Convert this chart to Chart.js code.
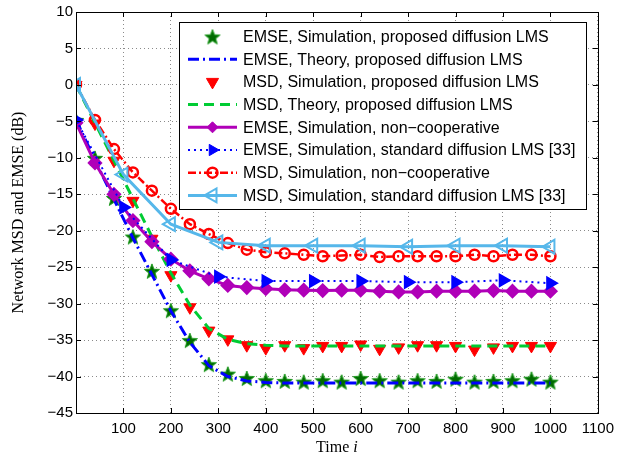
<!DOCTYPE html>
<html>
<head>
<meta charset="utf-8">
<script src="https://cdn.jsdelivr.net/npm/chart.js@4.4.1/dist/chart.umd.min.js"></script>
<style>
  body { margin: 0; background: #fff; }
  #wrap { width: 621px; height: 459px; }
</style>
</head>
<body>
<div id="wrap"><canvas id="mseChart" width="621" height="459"></canvas></div>
<script>
// time instants where the markers sit
const iters40 = [0, 40, 80, 120, 160, 200, 240, 280, 320, 360, 400, 440, 480, 520, 560, 600, 640, 680, 720, 760, 800, 840, 880, 920, 960, 1000];
const iters100 = [0, 100, 200, 300, 400, 500, 600, 700, 800, 900, 1000];

// series values (dB)
const emseSimProposed = [-4.8, -10.0, -15.5, -20.8, -25.5, -30.9, -35.0, -38.3, -39.6, -40.2, -40.5, -40.6, -40.7, -40.5, -40.7, -40.2, -40.5, -40.7, -40.5, -40.6, -40.3, -40.7, -40.6, -40.5, -40.3, -40.7];
const emseTheoryProposed = [-4.8, -10.3, -15.7, -21.0, -26.0, -31.0, -35.3, -38.5, -40.0, -40.6, -40.8, -40.9, -40.9, -40.9, -40.9, -40.9, -40.9, -40.9, -40.9, -40.9, -40.9, -40.9, -40.9, -40.9, -40.9, -40.9];
const msdSimProposed = [0, -5.3, -10.4, -15.9, -21.1, -26.1, -30.5, -33.7, -34.9, -35.7, -36.1, -35.7, -36.1, -35.8, -35.8, -35.6, -36.2, -36.0, -35.7, -35.7, -35.8, -36.3, -36.0, -35.8, -35.8, -35.8];
const msdTheoryProposed = [0, -5.2, -10.4, -15.6, -20.8, -25.8, -30.2, -33.4, -34.9, -35.5, -35.7, -35.8, -35.8, -35.8, -35.8, -35.8, -35.8, -35.8, -35.8, -35.8, -35.8, -35.8, -35.8, -35.8, -35.8, -35.8];
const emseNonCoop = [-5.2, -10.7, -15.0, -18.6, -21.5, -23.9, -25.5, -26.6, -27.5, -27.8, -27.95, -28.1, -28.15, -28.2, -28.15, -28.15, -28.3, -28.4, -28.4, -28.3, -28.3, -28.3, -28.2, -28.3, -28.3, -28.3];
const emseStandard = [-4.8, -16.8, -24.0, -26.3, -26.9, -26.9, -26.9, -27.05, -27.05, -26.8, -27.2];
const msdNonCoop = [0, -4.8, -8.8, -12.0, -14.5, -17.0, -19.1, -20.45, -21.7, -22.6, -22.95, -23.1, -23.3, -23.5, -23.4, -23.3, -23.6, -23.5, -23.5, -23.5, -23.5, -23.3, -23.5, -23.3, -23.3, -23.5];
const msdStandard = [0, -12.3, -19.1, -21.6, -22.05, -22.05, -22.05, -22.2, -22.05, -22.05, -22.2];

const seriesLabels = [
  "EMSE, Simulation, proposed diffusion LMS",
  "EMSE, Theory, proposed diffusion LMS",
  "MSD, Simulation, proposed diffusion LMS",
  "MSD, Theory, proposed diffusion LMS",
  "EMSE, Simulation, non\u2212cooperative",
  "EMSE, Simulation, standard diffusion LMS [33]",
  "MSD, Simulation, non\u2212cooperative",
  "MSD, Simulation, standard diffusion LMS [33]"
];

// tick settings
const xTicks = { min: 0, max: 1100, step: 100 };
const yTicks = { min: -45, max: 10, step: 5 };

function toPoints(xs, ys) {
  return ys.map((y, i) => ({ x: xs[i], y: y }));
}

// filled green star marker (Chart.js "star" is an asterisk)
function makeStar(r) {
  const c = document.createElement("canvas");
  const s = Math.ceil(r * 2 + 4);
  c.width = s;
  c.height = s;
  const g = c.getContext("2d");
  g.translate(s / 2, s / 2 + 1);
  g.beginPath();
  for (let i = 0; i < 10; i++) {
    const rad = i % 2 ? r * 0.42 : r;
    const a = -Math.PI / 2 + (i * Math.PI) / 5;
    g.lineTo(rad * Math.cos(a), rad * Math.sin(a));
  }
  g.closePath();
  g.fillStyle = "#006b00";
  g.fill();
  g.lineWidth = 1;
  g.strokeStyle = "#1d9a1d";
  g.stroke();
  return c;
}
const starImg = makeStar(8);

const RED = "#ff0000";
const BLUE = "#0000ff";
const GREEN = "#00cc33";
const PURPLE = "#b000b8";
const SKY = "#56b7ea";

// marker description for the hand-drawn legend
const markers = [
  { type: "star" },
  null,
  { type: "tri", rot: 180, r: 7, fill: RED, stroke: RED, w: 1 },
  null,
  { type: "diamond", r: 5.5, fill: PURPLE, stroke: PURPLE, w: 1 },
  { type: "tri", rot: 90, r: 6.5, fill: BLUE, stroke: BLUE, w: 1 },
  { type: "circle", r: 5, fill: null, stroke: RED, w: 2.5 },
  { type: "tri", rot: -90, r: 8, fill: null, stroke: SKY, w: 2 }
];

const datasets = [
  {
    data: toPoints(iters40, emseSimProposed),
    showLine: false,
    pointStyle: starImg,
    order: 8
  },
  {
    data: toPoints(iters40, emseTheoryProposed),
    borderColor: BLUE,
    borderWidth: 3,
    borderDash: [11, 4, 2, 4],
    pointRadius: 0,
    order: 7
  },
  {
    data: toPoints(iters40, msdSimProposed),
    showLine: false,
    pointStyle: "triangle",
    pointRotation: 180,
    pointRadius: 7,
    pointBackgroundColor: RED,
    pointBorderColor: RED,
    order: 6
  },
  {
    data: toPoints(iters40, msdTheoryProposed),
    borderColor: GREEN,
    borderWidth: 3,
    borderDash: [10, 6],
    pointRadius: 0,
    order: 5
  },
  {
    data: toPoints(iters40, emseNonCoop),
    borderColor: PURPLE,
    borderWidth: 3,
    pointStyle: "rectRot",
    pointRadius: 5.5,
    pointBackgroundColor: PURPLE,
    pointBorderColor: PURPLE,
    order: 4
  },
  {
    data: toPoints(iters100, emseStandard),
    borderColor: BLUE,
    borderWidth: 2,
    borderDash: [2, 4],
    pointStyle: "triangle",
    pointRotation: 90,
    pointRadius: 6.5,
    pointBackgroundColor: BLUE,
    pointBorderColor: BLUE,
    order: 3
  },
  {
    data: toPoints(iters40, msdNonCoop),
    borderColor: RED,
    borderWidth: 2.5,
    borderDash: [8, 3, 2, 3],
    pointStyle: "circle",
    pointRadius: 5,
    pointBorderWidth: 2.5,
    pointBackgroundColor: "rgba(0,0,0,0)",
    pointBorderColor: RED,
    order: 2
  },
  {
    data: toPoints(iters100, msdStandard),
    borderColor: SKY,
    borderWidth: 3,
    pointStyle: "triangle",
    pointRotation: -90,
    pointRadius: 8,
    pointBorderWidth: 2,
    pointBackgroundColor: "rgba(0,0,0,0)",
    pointBorderColor: SKY,
    order: 1
  }
];
datasets.forEach((d, i) => {
  d.label = seriesLabels[i];
  d.fill = false;
  d.tension = 0;
  if (!d.borderColor) d.borderColor = "rgba(0,0,0,0)";
});

function drawMarker(ctx, m, x, y) {
  if (!m) return;
  ctx.save();
  if (m.type === "star") {
    ctx.drawImage(starImg, x - starImg.width / 2, y - starImg.height / 2);
    ctx.restore();
    return;
  }
  ctx.setLineDash([]);
  ctx.beginPath();
  if (m.type === "tri") {
    let rad = (m.rot * Math.PI) / 180;
    for (let k = 0; k < 3; k++) {
      ctx.lineTo(x + Math.sin(rad) * m.r, y - Math.cos(rad) * m.r);
      rad += (2 * Math.PI) / 3;
    }
    ctx.closePath();
  } else if (m.type === "diamond") {
    ctx.moveTo(x, y - m.r);
    ctx.lineTo(x + m.r, y);
    ctx.lineTo(x, y + m.r);
    ctx.lineTo(x - m.r, y);
    ctx.closePath();
  } else if (m.type === "circle") {
    ctx.arc(x, y, m.r, 0, Math.PI * 2);
  }
  if (m.fill) {
    ctx.fillStyle = m.fill;
    ctx.fill();
  }
  ctx.lineWidth = m.w;
  ctx.strokeStyle = m.stroke;
  ctx.stroke();
  ctx.restore();
}

// frame with inward ticks, legend box and axis titles
const decorations = {
  id: "decorations",
  afterDraw(chart) {
    const ctx = chart.ctx;
    const a = chart.chartArea;
    const xs = chart.scales.x;
    const ys = chart.scales.y;
    ctx.save();
    ctx.strokeStyle = "#000";
    ctx.lineWidth = 1;
    ctx.setLineDash([]);
    ctx.beginPath();
    for (let v = xTicks.min + xTicks.step; v < xTicks.max; v += xTicks.step) {
      const px = Math.round(xs.getPixelForValue(v)) + 0.5;
      ctx.moveTo(px, a.bottom);
      ctx.lineTo(px, a.bottom - 5);
      ctx.moveTo(px, a.top);
      ctx.lineTo(px, a.top + 5);
    }
    for (let v = yTicks.min + yTicks.step; v < yTicks.max; v += yTicks.step) {
      const py = Math.round(ys.getPixelForValue(v)) + 0.5;
      ctx.moveTo(a.left, py);
      ctx.lineTo(a.left + 5, py);
      ctx.moveTo(a.right, py);
      ctx.lineTo(a.right - 5, py);
    }
    ctx.stroke();
    ctx.strokeRect(Math.round(a.left) + 0.5, Math.round(a.top) + 0.5, Math.round(a.right - a.left), Math.round(a.bottom - a.top));

    // legend
    const box = { x: 179.5, y: 22.5, w: 407, h: 187 };
    ctx.fillStyle = "#fff";
    ctx.fillRect(box.x, box.y, box.w, box.h);
    ctx.strokeRect(box.x, box.y, box.w, box.h);
    ctx.font = "16px 'Liberation Sans', Arial, sans-serif";
    ctx.textBaseline = "middle";
    ctx.textAlign = "left";
    datasets.forEach((d, i) => {
      const cy = 36.5 + i * 22.7;
      if (d.showLine !== false) {
        ctx.save();
        ctx.strokeStyle = d.borderColor;
        ctx.lineWidth = d.borderWidth;
        ctx.setLineDash(d.borderDash || []);
        ctx.beginPath();
        ctx.moveTo(188, cy);
        ctx.lineTo(237, cy);
        ctx.stroke();
        ctx.restore();
      }
      drawMarker(ctx, markers[i], 212.5, cy);
      ctx.fillStyle = "#000";
      ctx.fillText(d.label, 243, cy + 1);
    });

    // axis titles
    ctx.fillStyle = "#000";
    ctx.textBaseline = "alphabetic";
    const serif = "'Liberation Serif', 'Times New Roman', serif";
    const t1 = "Time ";
    ctx.font = "italic 16px " + serif;
    const w2 = ctx.measureText("i").width;
    ctx.font = "16px " + serif;
    const w1 = ctx.measureText(t1).width;
    const cx = (a.left + a.right) / 2;
    const startX = cx - (w1 + w2) / 2;
    ctx.fillText(t1, startX, 452);
    ctx.font = "italic 16px " + serif;
    ctx.fillText("i", startX + w1, 452);

    ctx.save();
    ctx.translate(23, (a.top + a.bottom) / 2);
    ctx.rotate(-Math.PI / 2);
    ctx.textAlign = "center";
    ctx.font = "16px " + serif;
    ctx.fillText("Network MSD and EMSE (dB)", 0, 0);
    ctx.restore();
    ctx.restore();
  }
};

const ctx = document.getElementById("mseChart").getContext("2d");
new Chart(ctx, {
  type: "line",
  data: { datasets: datasets },
  options: {
    responsive: false,
    animation: false,
    devicePixelRatio: 1,
    layout: { padding: { top: 10, right: 19, left: 0, bottom: 0 } },
    plugins: {
      legend: { display: false },
      tooltip: { enabled: false }
    },
    scales: {
      x: {
        type: "linear",
        min: xTicks.min,
        max: xTicks.max,
        afterFit: (s) => { s.height = 46; },
        ticks: {
          stepSize: xTicks.step,
          padding: 7,
          color: "#000",
          font: { family: "'Liberation Sans', Arial, sans-serif", size: 15 },
          maxRotation: 0,
          callback: (v) => (v === 0 ? "" : v)
        },
        grid: { color: "#8a8a8a", lineWidth: 1, drawTicks: false },
        border: { display: false, dash: [1, 3] }
      },
      y: {
        min: yTicks.min,
        max: yTicks.max,
        afterFit: (s) => { s.width = 76; },
        ticks: {
          stepSize: yTicks.step,
          padding: 3,
          color: "#000",
          font: { family: "'Liberation Sans', Arial, sans-serif", size: 15 },
          callback: (v) => (v < 0 ? "\u2212" + Math.abs(v) : String(v))
        },
        grid: { color: "#8a8a8a", lineWidth: 1, drawTicks: false },
        border: { display: false, dash: [1, 3] }
      }
    }
  },
  plugins: [decorations]
});
</script>
</body>
</html>
